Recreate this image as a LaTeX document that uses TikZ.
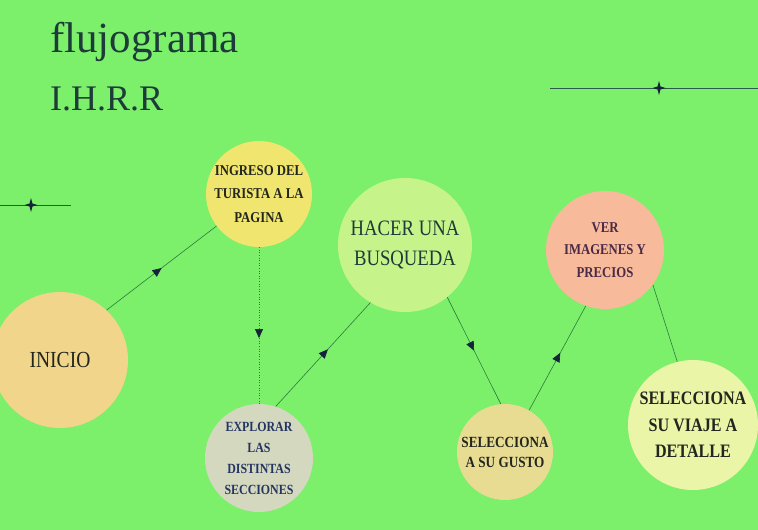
\documentclass[tikz,border=0pt]{standalone}
\usepackage{fontspec}
\setmainfont{Liberation Serif}
\newfontfamily\bubblefont{Liberation Serif}[FakeStretch=0.85]
\usetikzlibrary{arrows.meta,decorations.markings}
\definecolor{cBg}{HTML}{7CEF6B}
\definecolor{cLine}{HTML}{2F7A3C}
\definecolor{cDeco}{HTML}{2A5A48}
\definecolor{cArrow}{HTML}{15233A}
\definecolor{cTitle}{HTML}{1D3B38}
\definecolor{cInk}{HTML}{22261E}
\definecolor{cPlum}{HTML}{4A2A45}
\definecolor{cNavy}{HTML}{253562}
\definecolor{cIngreso}{HTML}{EFE56F}
\definecolor{cHacer}{HTML}{C6F48B}
\definecolor{cVer}{HTML}{F7BA9B}
\definecolor{cInicio}{HTML}{F1D58A}
\definecolor{cExplorar}{HTML}{D4D8BF}
\definecolor{cGusto}{HTML}{E7DC91}
\definecolor{cViaje}{HTML}{EBF5A7}
\tikzset{
  diagram/.style={every node/.style={align=center}},
  bubble/.style={circle, inner sep=0pt, text=cInk},
  link/.style={draw=cLine, line width=0.6pt},
  flow/.style={link, postaction={decorate}, decoration={markings,
    mark=at position #1 with {\arrow[color=cArrow]{Triangle[length=9pt, width=8pt]}}}},
  flow/.default=0.5,
  title/.style={text=cTitle, anchor=base west, inner sep=0pt},
}
\newcommand{\bsize}[2]{\fontsize{#1}{#2}\selectfont}
\newcommand{\sparkle}[1]{\fill[cArrow] (#1) ++(0,7) -- ++(1.5,-5.5) -- ++(5,-1.5) -- ++(-5,-1.5)
  -- ++(-1.5,-5.5) -- ++(-1.5,5.5) -- ++(-5,1.5) -- ++(5,1.5) -- cycle;}

\begin{document}
\begin{tikzpicture}[diagram, x=1pt, y=-1pt]
% pixel grid of the slide, y grows downwards
\fill[cBg] (0,0) rectangle (758,530);
\useasboundingbox (0,0) rectangle (758,530);
\node[title, font=\bsize{43}{43}] (titulo) at (50,52) {flujograma};
\node[title, font=\bsize{36}{36}] (sigla) at (50,110) {I.H.R.R};
\draw[cDeco, line width=0.8pt] (550,88) -- (758,88);
\sparkle{659,88}
\draw[cDeco, line width=0.8pt] (0,205) -- (71,205);
\sparkle{31,205}
\node[bubble, fill=cInicio, minimum size=136pt, font=\bubblefont\bsize{23}{26}] (inicio) at (60,360) {INICIO};
\node[bubble, fill=cIngreso, minimum size=106pt, font=\bubblefont\bfseries\bsize{15}{23.5}] (ingreso) at (259,194) {INGRESO DEL\\TURISTA A LA\\PAGINA};
\node[bubble, fill=cHacer, minimum size=134pt, text=cTitle, font=\bubblefont\bsize{22}{30}] (hacer) at (405,245) {HACER UNA\\BUSQUEDA};
\node[bubble, fill=cVer, minimum size=118pt, text=cPlum, font=\bubblefont\bfseries\bsize{15}{22.5}] (ver) at (605,250) {VER\\IMAGENES Y\\PRECIOS};
\node[bubble, fill=cExplorar, minimum size=108pt, text=cNavy, font=\bubblefont\bfseries\bsize{14}{21}] (explorar) at (259,458) {EXPLORAR\\LAS\\DISTINTAS\\SECCIONES};
\node[bubble, fill=cGusto, minimum size=96pt, font=\bubblefont\bfseries\bsize{15.5}{20}] (gusto) at (505,452) {SELECCIONA\\A SU GUSTO};
\node[bubble, fill=cViaje, minimum size=130pt, font=\bubblefont\bfseries\bsize{19}{26.5}] (viaje) at (693,425) {SELECCIONA\\SU VIAJE A\\DETALLE};
\draw[flow] (inicio.47) -- (ingreso.217);
\draw[flow=0.58, dotted] (ingreso.south) -- (explorar.north);
\draw[flow=0.55] (explorar.72) -- (hacer.239);
\draw[flow] (hacer.-51) -- (gusto.95);
\draw[flow=0.55] (gusto.60) -- (ver.251);
\draw[link] (ver.-36) -- (viaje.104);
\end{tikzpicture}
\end{document}
